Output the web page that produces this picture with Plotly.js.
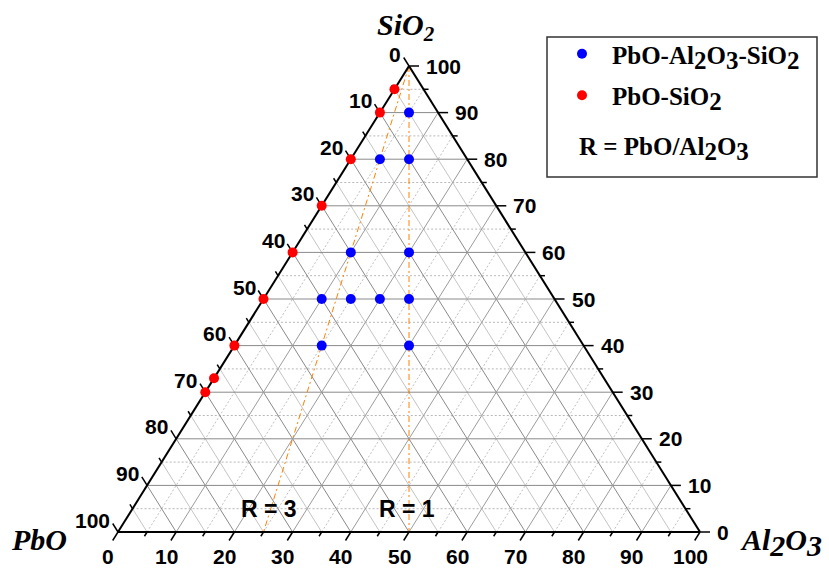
<!DOCTYPE html>
<html><head><meta charset="utf-8">
<script src="https://cdn.plot.ly/plotly-3.0.1.min.js"></script>
<style>html,body{margin:0;padding:0;background:#fff}</style>
</head><body><div id="chart" style="width:829px;height:568px"></div>
<script>
// ---- data (mol %) ----
const tickValues = [0,10,20,30,40,50,60,70,80,90,100];
const minorTickValues = [5,15,25,35,45,55,65,75,85,95];
const ternaryPbO   = [5, 15, 10, 30, 20, 40, 35, 30, 25, 45, 30];
const ternaryAl2O3 = [5,  5, 10, 10, 20, 10, 15, 20, 25, 15, 30];
const ternarySiO2  = [90, 80, 80, 60, 60, 50, 50, 50, 50, 40, 40];
const binaryPbO   = [5, 10, 20, 30, 40, 50, 60, 67, 70];
const binaryAl2O3 = [0, 0, 0, 0, 0, 0, 0, 0, 0];
const binarySiO2  = [95, 90, 80, 70, 60, 50, 40, 33, 30];
const ratioValues = [3, 1];
const ratioLabels = ['R = 3', 'R = 1'];

// ---- helpers ----
const PXX = 5.82, PXY = 4.66; // pixels per data unit of the cartesian frame
function xy(pbo, al, si){ const s = pbo + al + si; al = al*100/s; si = si*100/s; return [al + si/2, si]; }
function seg(list){ const X=[],Y=[]; list.forEach(([a,b])=>{X.push(a[0],b[0],null);Y.push(a[1],b[1],null);}); return {x:X,y:Y}; }
function gridSegs(vals, fam){
  return vals.filter(v=>v>0&&v<100).map(v=>{
    if(fam==='Si') return [xy(100-v,0,v), xy(0,100-v,v)];
    if(fam==='Pb') return [xy(v,0,100-v), xy(v,100-v,0)];
    return [xy(100-v,v,0), xy(0,v,100-v)];
  });
}
const ux = 291/549.4, uy = 466/549.4;
function tickSegs(vals, L){
  const out=[];
  vals.forEach(v=>{
    let p = xy(100-v, v, 0); out.push([p,[p[0]-ux*L/PXX, p[1]-uy*L/PXY]]);     // bottom, Al2O3
    p = xy(v, 0, 100-v); out.push([p,[p[0]-ux*L/PXX, p[1]+uy*L/PXY]]);         // left, PbO
    p = xy(0, 100-v, v); out.push([p,[p[0]+L/PXX, p[1]]]);                      // right, SiO2
  });
  return out;
}
const traces = [];
function addLines(segs, color, width, dash){
  const s = seg(segs);
  traces.push({type:'scatter',mode:'lines',x:s.x,y:s.y,line:{color:color,width:width,dash:dash||'solid'},hoverinfo:'skip',showlegend:false,cliponaxis:false});
}
// minor grid
addLines(gridSegs(minorTickValues,'Si'), '#b8b8b8', 1, '2px,2px');
addLines(gridSegs(minorTickValues,'Al'), '#c0c0c0', 1, '2px,2px');
addLines(gridSegs(minorTickValues,'Pb'), '#c4c4c4', 1);
// major grid
addLines(gridSegs(tickValues,'Si'), '#8a8a8a', 1);
addLines(gridSegs(tickValues,'Pb'), '#8a8a8a', 1);
addLines(gridSegs(tickValues,'Al'), '#9c9c9c', 1);
// ratio lines
ratioValues.forEach(r=>{
  const pb = 100*r/(1+r), al = 100/(1+r);
  addLines([[xy(0,0,100), xy(pb,al,0)]], '#FF8000', 1, '6px,3px,2px,3px');
});
// triangle edges
addLines([[xy(100,0,0),xy(0,100,0)],[xy(0,100,0),xy(0,0,100)],[xy(0,0,100),xy(100,0,0)]], '#000', 2);
// ticks
addLines(tickSegs(tickValues,10), '#000', 1.5);
addLines(tickSegs(minorTickValues,5), '#000', 1.5);

const sub = d => '<sub><span style="font-size:25px">'+d+'</span></sub>';
const tp = ternaryPbO.map((v,i)=>xy(v,ternaryAl2O3[i],ternarySiO2[i]));
traces.push({type:'scatter',mode:'markers',name:'PbO-Al'+sub(2)+'O'+sub(3)+'-SiO'+sub(2),legendgroup:'a',
  x:tp.map(p=>p[0]),y:tp.map(p=>p[1]),marker:{color:'#0000FF',size:10},cliponaxis:false});
const bp = binaryPbO.map((v,i)=>xy(v,binaryAl2O3[i],binarySiO2[i]));
traces.push({type:'scatter',mode:'markers',name:'PbO-SiO'+sub(2),legendgroup:'b',
  x:bp.map(p=>p[0]),y:bp.map(p=>p[1]),marker:{color:'#FF0000',size:10},cliponaxis:false});

// ---- annotations ----
const tickFont = {family:'Liberation Sans, Arial, sans-serif',size:21,color:'#000',weight:'bold'};
const ann = [];
tickValues.forEach(v=>{
  let p = xy(100-v, v, 0);
  ann.push({x:p[0],y:p[1],xref:'x',yref:'y',text:String(v),showarrow:false,font:tickFont,xanchor:'center',yanchor:'middle',xshift:-10,yshift:-24});
  p = xy(v, 0, 100-v);
  ann.push({x:p[0],y:p[1],xref:'x',yref:'y',text:String(v),showarrow:false,font:tickFont,xanchor:'right',yanchor:'middle',xshift:-6,yshift:12});
  p = xy(0, 100-v, v);
  ann.push({x:p[0],y:p[1],xref:'x',yref:'y',text:String(v),showarrow:false,font:tickFont,xanchor:'left',yanchor:'middle',xshift:15,yshift:0});
});
ratioValues.forEach((r,i)=>{
  const si = 5, pb = (100-si)*r/(1+r), al = (100-si)/(1+r);
  const p = xy(pb,al,si);
  ann.push({x:p[0],y:p[1],xref:'x',yref:'y',text:ratioLabels[i],showarrow:false,
    font:{family:'Liberation Sans, Arial, sans-serif',size:23,color:'#000',weight:'bold'},xanchor:'center',yanchor:'middle',xshift:-2,yshift:0});
});
const titleFont = {family:'Liberation Serif, Times New Roman, serif',size:30,color:'#000',weight:'bold',style:'italic'};
let v = xy(0,0,100);
ann.push({x:v[0],y:v[1],xref:'x',yref:'y',text:'SiO<sub>2</sub>',showarrow:false,font:titleFont,xanchor:'center',yanchor:'bottom',xshift:-3,yshift:18});
v = xy(100,0,0);
ann.push({x:v[0],y:v[1],xref:'x',yref:'y',text:'PbO',showarrow:false,font:titleFont,xanchor:'right',yanchor:'middle',xshift:-49,yshift:-7});
v = xy(0,100,0);
ann.push({x:v[0],y:v[1],xref:'x',yref:'y',text:'Al<sub><span style="font-size:30px">2</span></sub>O<sub><span style="font-size:30px">3</span></sub>',showarrow:false,font:titleFont,xanchor:'left',yanchor:'middle',xshift:38,yshift:-10});
ann.push({xref:'paper',yref:'paper',x:577/829,y:1-149/568,xanchor:'left',yanchor:'middle',showarrow:false,
  text:'R = PbO/Al'+sub(2)+'O'+sub(3),font:{family:'Liberation Serif, Times New Roman, serif',size:25,color:'#000',weight:'bold'}});

const layout = {
  width:829,height:568,margin:{l:0,r:0,t:0,b:0},paper_bgcolor:'#fff',plot_bgcolor:'rgba(0,0,0,0)',
  xaxis:{range:[-118/PXX,(829-118)/PXX],visible:false,fixedrange:true},
  yaxis:{range:[-(568-532)/PXY,532/PXY],visible:false,fixedrange:true},
  showlegend:true,
  legend:{x:552/829,y:1-31/568,xanchor:'left',yanchor:'top',bgcolor:'rgba(0,0,0,0)',borderwidth:0,itemwidth:50,
    traceorder:'grouped',tracegroupgap:6,
    font:{family:'Liberation Serif, Times New Roman, serif',size:25,color:'#000',weight:'bold'}},
  shapes:[{type:'rect',xref:'paper',yref:'paper',x0:547/829,x1:817/829,y0:1-177/568,y1:1-37/568,line:{color:'#333',width:1.5},fillcolor:'rgba(0,0,0,0)'}],
  annotations:ann
};
Plotly.newPlot('chart',traces,layout,{staticPlot:true,displayModeBar:false});
</script></body></html>
